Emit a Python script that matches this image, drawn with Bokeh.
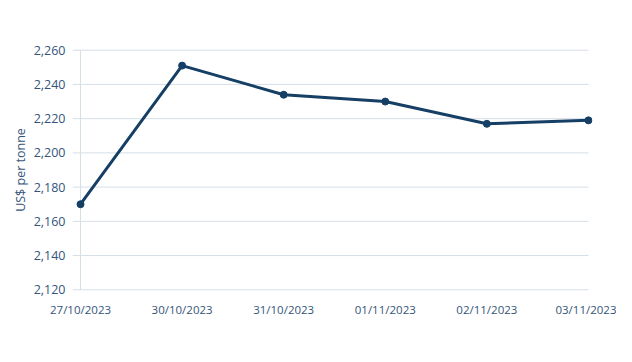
from bokeh.plotting import figure
from bokeh.models import Range1d, FixedTicker, NumeralTickFormatter, ColumnDataSource
from bokeh.embed import file_html
from bokeh.resources import INLINE

dates = ["27/10/2023", "30/10/2023", "31/10/2023", "01/11/2023", "02/11/2023", "03/11/2023"]
prices = [2170, 2251, 2234, 2230, 2217, 2219]
y_ticks = [2120, 2140, 2160, 2180, 2200, 2220, 2240, 2260]

xs = list(range(len(dates)))
src = ColumnDataSource(dict(x=xs, y=prices))

TEXT = "#34557a"
GRID = "#d6dee6"
LINE = "#163f66"

n = len(dates) - 1
pad_l = 0.079   # room for tick marks / full first marker
pad_r = 0.04    # room for full last marker

p = figure(width=616, height=346, output_backend="svg", toolbar_location=None,
           x_range=Range1d(-pad_l, n + pad_r), y_range=Range1d(2119, 2261),
           min_border_left=72, min_border_right=24, min_border_top=48, min_border_bottom=55)
p.outline_line_color = None
p.background_fill_color = "white"

# horizontal grid lines (extend left past the axis to form the tick marks)
p.segment(x0=[-pad_l] * len(y_ticks), x1=[n] * len(y_ticks), y0=y_ticks, y1=y_ticks,
          line_color=GRID, line_width=1)
# vertical axis line
p.segment(x0=[0], x1=[0], y0=[y_ticks[0]], y1=[y_ticks[-1]], line_color=GRID, line_width=1)

p.line("x", "y", source=src, line_color=LINE, line_width=3)
p.scatter("x", "y", source=src, size=7, fill_color=LINE, line_color=LINE)

p.yaxis.ticker = FixedTicker(ticks=y_ticks)
p.yaxis.formatter = NumeralTickFormatter(format="0,0")
p.yaxis.axis_label = "US$ per tonne"
p.yaxis.axis_label_text_font = "Open Sans"
p.yaxis.axis_label_text_font_style = "normal"
p.yaxis.axis_label_text_font_size = "12.5px"
p.yaxis.axis_label_text_color = TEXT
p.yaxis.axis_label_standoff = 2
p.yaxis.axis_line_color = None
p.yaxis.major_tick_line_color = None
p.yaxis.minor_tick_line_color = None
p.yaxis.major_label_text_font = "Open Sans"
p.yaxis.major_label_text_font_size = "12.5px"
p.yaxis.major_label_text_color = TEXT
p.yaxis.major_label_standoff = 1

p.xaxis.ticker = FixedTicker(ticks=xs)
p.xaxis.major_label_overrides = {i: d for i, d in enumerate(dates)}
p.xaxis.axis_line_color = None
p.xaxis.major_tick_line_color = None
p.xaxis.minor_tick_line_color = None
p.xaxis.major_label_text_font = "Open Sans"
p.xaxis.major_label_text_font_size = "11.5px"
p.xaxis.major_label_text_color = TEXT
p.xaxis.major_label_standoff = 4

p.xgrid.grid_line_color = None
p.ygrid.grid_line_color = None

open("out.html", "w").write(file_html(p, INLINE))
